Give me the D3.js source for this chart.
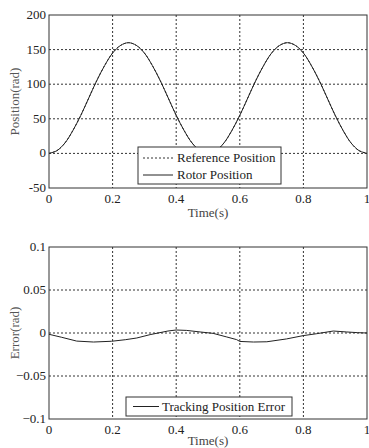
<!DOCTYPE html>
<html lang="en">
<head>
<meta charset="UTF-8">
<title>Position tracking</title>
<script src="https://d3js.org/d3.v7.min.js"></script>
<style>
  body { margin: 0; background: #fff; }
  svg { display: block; font-family: "Liberation Serif", "DejaVu Serif", serif; }
</style>
</head>
<body>
<svg id="chart" width="369" height="448"></svg>
<script>
// values
const posTime = d3.range(0, 41).map(i => i * 0.025);
const refPosition = [0, 4, 15, 33, 55, 80, 105, 127, 145, 156, 160, 156, 145, 127, 105, 80, 55, 33, 15, 4,
                     0, 4, 15, 33, 55, 80, 105, 127, 145, 156, 160, 156, 145, 127, 105, 80, 55, 33, 15, 4, 0];
const rotorPosition = refPosition.slice();

const errTime = [0, 0.04, 0.087, 0.14, 0.197, 0.24, 0.276, 0.318, 0.374, 0.4, 0.433, 0.475, 0.516, 0.559,
                 0.59, 0.6, 0.643, 0.685, 0.747, 0.8, 0.842, 0.894, 0.936, 0.97, 1.0];
const errValue = [-0.0015, -0.005, -0.0094, -0.0105, -0.0096, -0.0078, -0.0058, -0.0019, 0.0023, 0.0035,
                  0.003, 0.0012, -0.0004, -0.0046, -0.0077, -0.0098, -0.0105, -0.0102, -0.0069, -0.003,
                  -0.0008, 0.0023, 0.0012, 0.0004, 0.0];

const xTicks = [0, 0.2, 0.4, 0.6, 0.8, 1];
const posTicks = [-50, 0, 50, 100, 150, 200];
const errTicks = [-0.1, -0.05, 0, 0.05, 0.1];

const svg = d3.select('#chart');
const left = 49, right = 367;

function panel(top, bottom, yDomain, yTicks, yFmt, yLabel, labelGap) {
  const x = d3.scaleLinear().domain([0, 1]).range([left, right]);
  const y = d3.scaleLinear().domain(yDomain).range([bottom, top]);
  const g = svg.append('g');

  // grid
  g.selectAll('.vg').data(xTicks.slice(1, -1)).join('line')
    .attr('x1', d => x(d)).attr('x2', d => x(d)).attr('y1', top).attr('y2', bottom)
    .attr('stroke', '#333').attr('stroke-width', 1).attr('stroke-dasharray', '2,2');
  g.selectAll('.hg').data(yTicks.slice(1, -1)).join('line')
    .attr('x1', left).attr('x2', right).attr('y1', d => y(d)).attr('y2', d => y(d))
    .attr('stroke', '#333').attr('stroke-width', 1).attr('stroke-dasharray', '2,2');

  // frame
  g.append('rect').attr('x', left).attr('y', top)
    .attr('width', right - left).attr('height', bottom - top)
    .attr('fill', 'none').attr('stroke', '#333').attr('stroke-width', 1);

  // tick labels
  g.selectAll('.xt').data(xTicks).join('text')
    .attr('x', d => x(d)).attr('y', bottom + 15)
    .attr('text-anchor', 'middle').attr('font-size', 13).attr('fill', '#222')
    .text(d => d3.format('')(d));
  g.selectAll('.yt').data(yTicks).join('text')
    .attr('x', left - 3).attr('y', d => y(d) + 4)
    .attr('text-anchor', 'end').attr('font-size', 13).attr('fill', '#222')
    .text(yFmt);

  g.append('text').attr('x', (left + right) / 2).attr('y', bottom + labelGap)
    .attr('text-anchor', 'middle').attr('font-size', 13).attr('fill', '#444')
    .text('Time(s)');
  g.append('text')
    .attr('transform', `translate(19,${(top + bottom) / 2}) rotate(-90)`)
    .attr('text-anchor', 'middle').attr('font-size', 13).attr('fill', '#555')
    .text(yLabel);
  return { x, y, g };
}

// top panel
const p1 = panel(15, 188, [-50, 200], posTicks, d => d, 'Position(rad)', 29);
const line1 = d3.line().x((d, i) => p1.x(posTime[i])).y(d => p1.y(d)).curve(d3.curveCatmullRom);
p1.g.append('path').attr('d', line1(refPosition))
  .attr('fill', 'none').attr('stroke', '#333').attr('stroke-width', 1).attr('stroke-dasharray', '2,2');
p1.g.append('path').attr('d', line1(rotorPosition))
  .attr('fill', 'none').attr('stroke', '#222').attr('stroke-width', 1);

const leg1 = p1.g.append('g');
leg1.append('rect').attr('x', 138).attr('y', 147).attr('width', 143).attr('height', 37)
  .attr('fill', '#fff').attr('stroke', '#333');
leg1.append('line').attr('x1', 143).attr('x2', 173).attr('y1', 158).attr('y2', 158)
  .attr('stroke', '#333').attr('stroke-dasharray', '2,2');
leg1.append('line').attr('x1', 143).attr('x2', 173).attr('y1', 175).attr('y2', 175)
  .attr('stroke', '#222');
leg1.append('text').attr('x', 177).attr('y', 162).attr('font-size', 13).attr('fill', '#222')
  .text('Reference Position');
leg1.append('text').attr('x', 177).attr('y', 179).attr('font-size', 13).attr('fill', '#222')
  .text('Rotor Position');

// bottom panel
const p2 = panel(247, 419, [-0.1, 0.1], errTicks, d => d === 0 ? '0' : d3.format('')(d), 'Error(rad)', 26);
const line2 = d3.line().x((d, i) => p2.x(errTime[i])).y(d => p2.y(d));
p2.g.append('path').attr('d', line2(errValue))
  .attr('fill', 'none').attr('stroke', '#222').attr('stroke-width', 1);

const leg2 = p2.g.append('g');
leg2.append('rect').attr('x', 126).attr('y', 397).attr('width', 166).attr('height', 19)
  .attr('fill', '#fff').attr('stroke', '#333');
leg2.append('line').attr('x1', 133).attr('x2', 159).attr('y1', 406.5).attr('y2', 406.5)
  .attr('stroke', '#222');
leg2.append('text').attr('x', 162).attr('y', 411).attr('font-size', 13).attr('fill', '#222')
  .text('Tracking Position Error');
</script>
</body>
</html>
